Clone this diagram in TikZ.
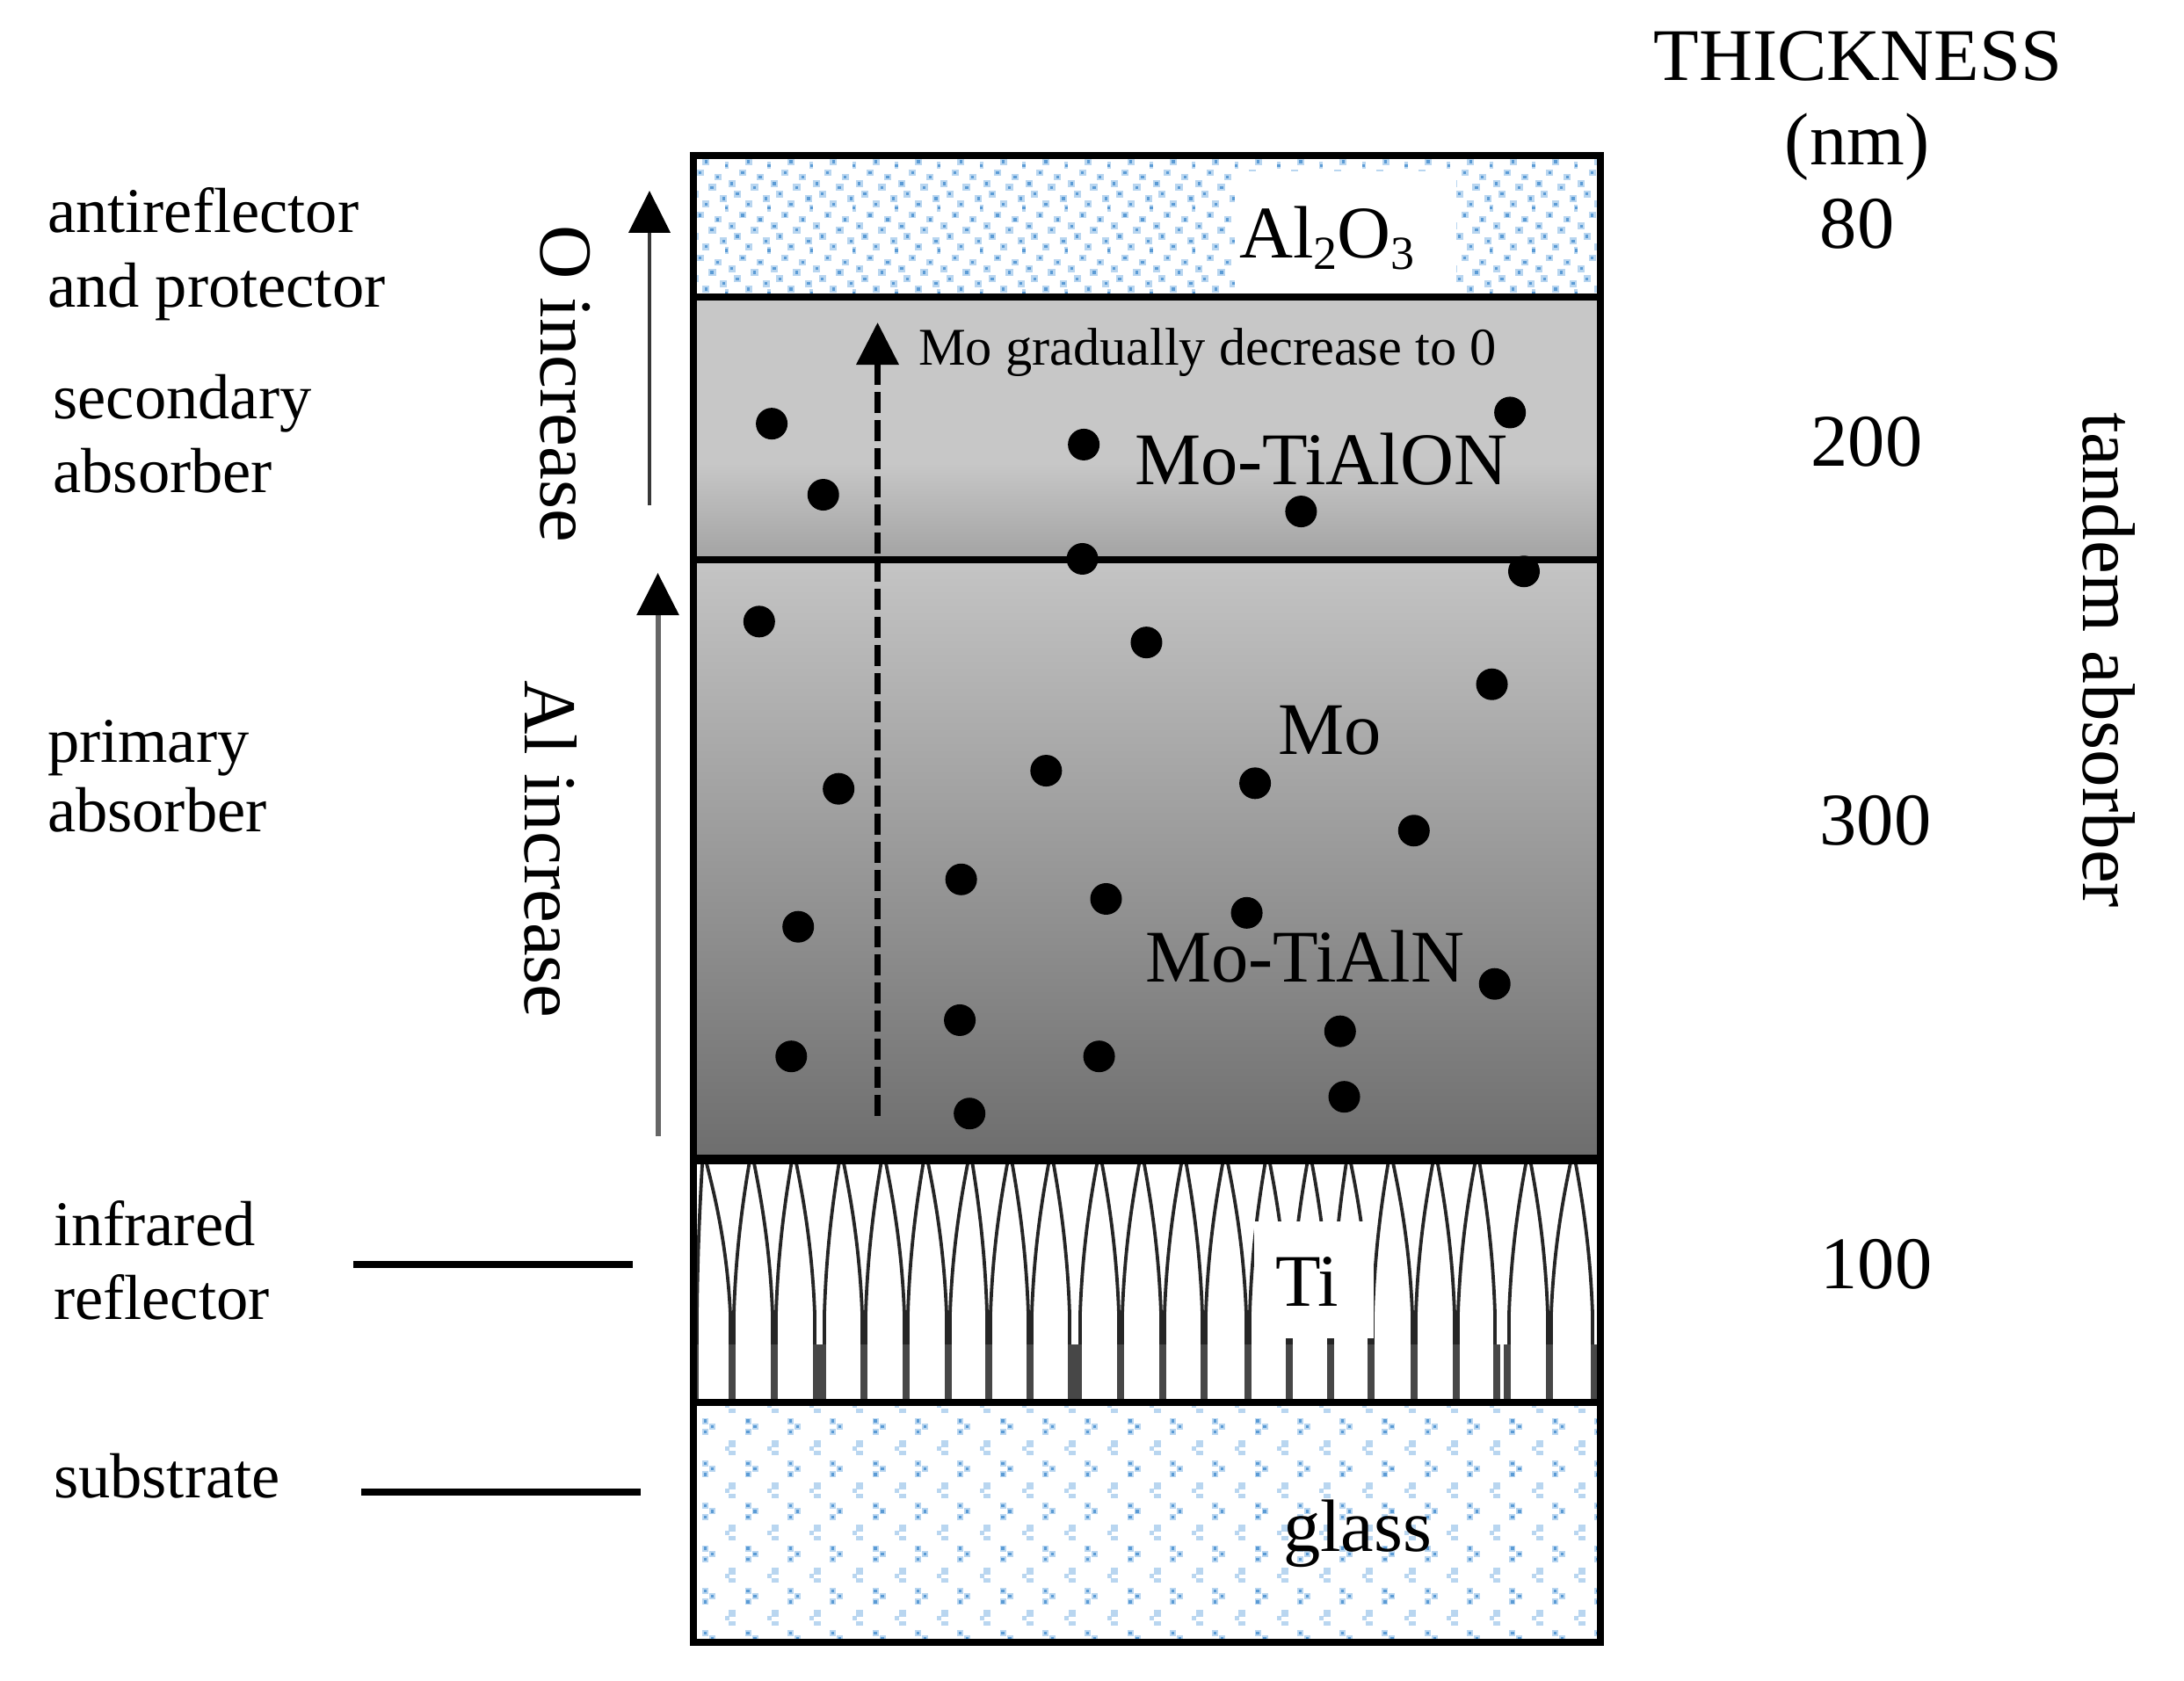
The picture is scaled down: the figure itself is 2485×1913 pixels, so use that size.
\documentclass[tikz,border=0pt]{standalone}
\usepackage{fontspec}
\setmainfont{Liberation Serif}
\usetikzlibrary{arrows.meta}
\definecolor{dotlight}{HTML}{B9D6F0}
\definecolor{dotdark}{HTML}{5B9BD5}
\newcommand{\fsz}[1]{\fontsize{#1}{#1}\selectfont}
\newcommand{\subnum}[1]{\raisebox{-0.16em}{\fsz{54}#1}}
\tikzset{
  lab/.style={inner sep=0pt,outer sep=0pt,anchor=base west,text=black,font=\fsz{72.5}},
  big/.style={inner sep=0pt,outer sep=0pt,anchor=base west,text=black,font=\fsz{84.5}},
  num/.style={inner sep=0pt,outer sep=0pt,anchor=base,text=black,font=\fsz{84.5}},
  vert/.style={inner sep=0pt,outer sep=0pt,anchor=base west,rotate=-90,text=black,font=\fsz{85}},
  sep/.style={draw=black,line width=8pt,line cap=butt},
  leader/.style={draw=black,line width=8pt},
  leg/.style={draw=black!85,line width=3.8pt},
  stem/.style={draw=black!72,line width=8pt},
  head/.style={-{Triangle[length=48pt,width=47pt,black]}},
  dot/.style={fill=black}
}
\begin{document}
\begin{tikzpicture}[x=1pt,y=-1pt]
\useasboundingbox (0,0) rectangle (2485,1913);
\fill[white] (0,0) rectangle (2485,1913);

% Al2O3 dotted pattern
\begin{scope}
\clip (793,181) rectangle (1817,334);
\foreach \i in {-1,...,21}{
 \foreach \j in {0,...,3}{
  \foreach \a/\b/\w/\h in {40/12/8/8,110/25/4/8,20/50/8/7,80/65/8/7,128/87/8/8,60/100/9/8,147/122/8/8,100/138/8/8}{
   \fill[dotlight] (790+\i*48.33+\a/3-\w/2,180+\j*48.33+\b/3-\h/2) rectangle ++(\w,\h);
   \fill[dotdark] (790+\i*48.33+\a/3-1.6,180+\j*48.33+\b/3-1.6) rectangle ++(3.2,3.2);
  }
 }
}
\end{scope}
\fill[white] (1405,195) rectangle (1657,334);

% glass pattern
\begin{scope}
\clip (793,1600) rectangle (1817,1865);
\foreach \i in {0,...,21}{
 \foreach \j in {-1,...,5}{
  \foreach \a/\b in {0/-6.3,0/6.3,8/0}{
   \fill[dotlight] (802.7+\i*48.33+\a-3.5,1623.3+\j*48.33+\b-3.5) rectangle ++(7,7);
   \fill[dotdark] (802.7+\i*48.33+\a-1.6,1623.3+\j*48.33+\b-1.6) rectangle ++(3.2,3.2);
  }
  \foreach \a/\b/\w/\h in {0/-5.5/8/8,-6/0/5/5,0/5.5/8/5}{
   \fill[dotlight] (833.3+\i*48.33+\a-\w/2,1648.3+\j*48.33+\b-\h/2) rectangle ++(\w,\h);
  }
 }
}
\end{scope}

% absorber layers
\fill[black!22] (789,338) rectangle (1821,530);
\shade[top color=black!22,bottom color=black!36] (789,527) rectangle (1821,636);
\shade[top color=black!23,bottom color=black!57] (789,636) rectangle (1821,1316);

% Ti columns
\begin{scope}
\clip (793,1316) rectangle (1817,1600);
\foreach \p/\l/\r in {800/791/833,855/833/881,903/881/929,957/936/983,1005/983/1031,1053/1031/1079,1104/1079/1125,1149/1125/1172,1196/1172/1219,1251/1227/1275,1299/1275/1323,1347/1323/1370,1394/1370/1420,1442/1420/1467,1490/1467/1514,1534/1514/1560,1582/1560/1609,1633/1609/1657,1681/1657/1703,1739/1715/1763,1790/1763/1814}{
  \draw[leg] (\p,1308) .. controls ({\p+0.2*(\l+2-\p)},1335) and ({\p+0.85*(\l+2-\p)},1400) .. (\l+2,1495) -- (\l+2,1535);
  \draw[leg] (\p,1308) .. controls ({\p+0.2*(\r-2-\p)},1335) and ({\p+0.85*(\r-2-\p)},1400) .. (\r-2,1495) -- (\r-2,1535);
  \draw[stem] (\l,1530) -- (\l,1596);
  \draw[stem] (\r,1530) -- (\r,1596);
}
\end{scope}
\fill[white] (1427,1390) rectangle (1563,1523);

% separators and frame
\draw[sep] (789,338) -- (1821,338);
\draw[sep] (789,636.5) -- (1821,636.5);
\draw[sep,line width=11pt] (789,1319.5) -- (1821,1319.5);
\draw[sep] (789,1596) -- (1821,1596);
\draw[draw=black,line width=8pt] (789,177) rectangle (1821,1869);

% dots
\foreach \x/\y in {554/304,591/355,778/319,934/367,1084/296,777/401,1094/410,545/446,823/461,1071/491,602/566,751/553,901/562,1015/596,690/631,794/645,895/655,573/665,1073/706,689/732,962/740,568/758,789/758,965/787,696/799}{
  \fill[dot] (\x*1.585,\y*1.586) circle (18pt);
}

% coordinates of the free ends of connectors
\coordinate (oB) at (739,575);
\coordinate (oT) at (739,217);
\coordinate (aB) at (748.5,1293);
\coordinate (aT) at (748.5,652);
\coordinate (mB) at (998.5,1270);
\coordinate (mT) at (998.5,367);
\coordinate (iA) at (402,1439);
\coordinate (iB) at (719.5,1439);
\coordinate (sA) at (411,1698);
\coordinate (sB) at (728.5,1698);

\draw[head,draw=black!78,line width=4.5pt] (oB) -- (oT);
\draw[head,draw=black!60,line width=6pt] (aB) -- (aT);
\draw[head,draw=black,line width=7pt,dash pattern=on 24pt off 8pt] (mB) -- (mT);
\draw[leader] (iA) -- (iB);
\draw[leader] (sA) -- (sB);

% left labels
\node[lab] (anti1) at (54,265) {antireflector};
\node[lab] (anti2) at (54,349) {and protector};
\node[lab] (sec1) at (60.5,476) {secondary};
\node[lab] (sec2) at (60.5,560) {absorber};
\node[lab] (pri1) at (54,867) {primary};
\node[lab] (pri2) at (54,946) {absorber};
\node[lab] (ir1) at (61,1417) {infrared};
\node[lab] (ir2) at (61,1501) {reflector};
\node[lab] (sub1) at (61,1704) {substrate};

% rotated labels
\node[vert] (oinc) at (615,256) {O increase};
\node[vert] (alinc) at (597,774) {Al increase};
\node[vert] (tandem) at (2370,469) {tandem absorber};

% layer labels
\node[big] (al2o3) at (1410,293) {Al\subnum{2}O\subnum{3}};
\node[lab,font=\fsz{60.4}] (mograd) at (1045,415) {Mo gradually decrease to 0};
\node[big] (motialon) at (1291,551) {Mo-TiAlON};
\node[big] (mo) at (1454,858) {Mo};
\node[big] (motialn) at (1303,1117) {Mo-TiAlN};
\node[big] (ti) at (1451,1486) {Ti};
\node[big] (glass) at (1460,1765) {glass};

% thickness column
\node[num] (thick) at (2114,92) {THICKNESS};
\node[num] (nm) at (2113,187.5) {(nm)};
\node[num] (t80) at (2113,283) {80};
\node[num] (t200) at (2124,530) {200};
\node[num] (t300) at (2134,961) {300};
\node[num] (t100) at (2135,1466) {100};
\end{tikzpicture}
\end{document}
